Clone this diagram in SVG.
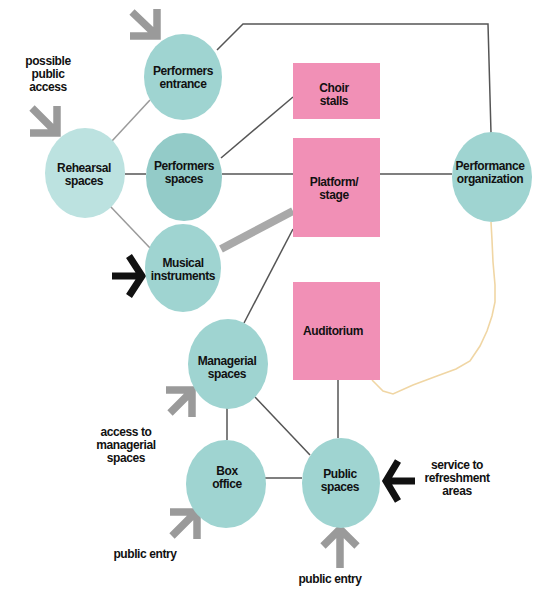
<svg xmlns="http://www.w3.org/2000/svg" width="540" height="592" viewBox="0 0 540 592">
<style>
.n{fill:#9fd4d1}
.nl{fill:#bce2e0}
.nd{fill:#93cbc8}
.r{fill:#f190b6}
text{font-family:"Liberation Sans",Arial,sans-serif;font-weight:bold;font-size:12px;letter-spacing:-0.4px;fill:#111;text-anchor:middle}
.c{stroke:#555;stroke-width:1.5;fill:none}
.cl{stroke:#9a9a9a;stroke-width:1.5;fill:none}
.ga{stroke:#9a9a9a;stroke-width:7.5;fill:none;stroke-linejoin:miter}
.ba{stroke:#111;stroke-width:7;fill:none;stroke-linejoin:miter}
</style>
<rect width="540" height="592" fill="#fff"/>
<g id="connectors">
<polyline class="c" points="217,50 243,24 488,24 491,133"/>
<line class="cl" x1="112" y1="141" x2="150" y2="100"/>
<line class="c" x1="125" y1="174" x2="146" y2="174"/>
<line class="c" x1="221" y1="158" x2="293" y2="97"/>
<line class="c" x1="222" y1="174" x2="293" y2="174"/>
<line class="c" x1="380" y1="174" x2="452" y2="174"/>
<line class="cl" x1="110" y1="206" x2="150" y2="248"/>
<line x1="221" y1="249" x2="293" y2="211" stroke="#a9a9a9" stroke-width="8"/>
<line class="c" x1="293" y1="229" x2="244" y2="323"/>
<line class="c" x1="227" y1="408" x2="227" y2="440"/>
<line class="c" x1="255" y1="397" x2="310" y2="455"/>
<line class="c" x1="265" y1="478" x2="302" y2="478"/>
<line class="c" x1="338" y1="380" x2="338" y2="438"/>
<path d="M491,222 L492,240 L493,262 L495,285 L495,302 L492,316 L487,331 L480,346 L470,361 L456,369 L437,376 L413,385 L393,394 L383,391 L376,384 L372,380" stroke="#f0d6a4" stroke-width="1.6" fill="none"/>
</g>
<g id="arrows">
<path class="ga" d="M157,9 V36 H130 M132,12 L154,33"/>
<path class="ga" d="M57,106 V133 H30 M32,108 L54,130"/>
<path class="ba" d="M112,276 H139 M129,256 L142,276 L129,296"/>
<path class="ga" d="M166,390 H192 V417 M170,413 L190,393"/>
<path class="ga" d="M170,512 H197 V539 M172,536 L194,514"/>
<path class="ga" d="M340,568 V531 M323,546 L340,529 L357,546"/>
<path class="ba" d="M415,481 H388 M398,461 L386,481 L398,501"/>
</g>
<g id="labels">
<text x="48" y="65">possible</text>
<text x="48" y="78">public</text>
<text x="48" y="91">access</text>
<text x="126" y="436">access to</text>
<text x="126" y="449">managerial</text>
<text x="126" y="462">spaces</text>
<text x="145" y="558">public entry</text>
<text x="330" y="583">public entry</text>
<text x="457" y="469">service to</text>
<text x="457" y="482">refreshment</text>
<text x="457" y="495">areas</text>
</g>
<g id="performers-entrance"><ellipse class="n" cx="183" cy="77" rx="39" ry="43"/><text x="183" y="75">Performers</text><text x="183" y="88">entrance</text></g>
<g id="rehearsal-spaces"><ellipse class="nl" cx="85" cy="173" rx="40" ry="45"/><text x="84" y="172">Rehearsal</text><text x="84" y="185">spaces</text></g>
<g id="performers-spaces"><ellipse class="nd" cx="184" cy="177" rx="38" ry="44"/><text x="184" y="170">Performers</text><text x="184" y="183">spaces</text></g>
<g id="musical-instruments"><ellipse class="n" cx="183" cy="268" rx="38" ry="44"/><text x="183" y="267">Musical</text><text x="183" y="280">instruments</text></g>
<g id="managerial-spaces"><ellipse class="n" cx="228" cy="364" rx="40" ry="45"/><text x="227" y="365">Managerial</text><text x="227" y="378">spaces</text></g>
<g id="box-office"><ellipse class="n" cx="226" cy="484" rx="40" ry="44"/><text x="227" y="475">Box</text><text x="227" y="488">office</text></g>
<g id="public-spaces"><ellipse class="n" cx="341" cy="483" rx="39" ry="45"/><text x="340" y="478">Public</text><text x="340" y="491">spaces</text></g>
<g id="performance-organization"><ellipse class="n" cx="492" cy="177" rx="40" ry="45"/><text x="490" y="170">Performance</text><text x="490" y="183">organization</text></g>
<g id="choir-stalls"><rect class="r" x="293" y="63" width="87" height="56"/><text x="334" y="92">Choir</text><text x="334" y="105">stalls</text></g>
<g id="platform-stage"><rect class="r" x="293" y="138" width="87" height="99"/><text x="334" y="186">Platform/</text><text x="334" y="199">stage</text></g>
<g id="auditorium"><rect class="r" x="293" y="282" width="87" height="98"/><text x="333" y="335">Auditorium</text></g>
</svg>
